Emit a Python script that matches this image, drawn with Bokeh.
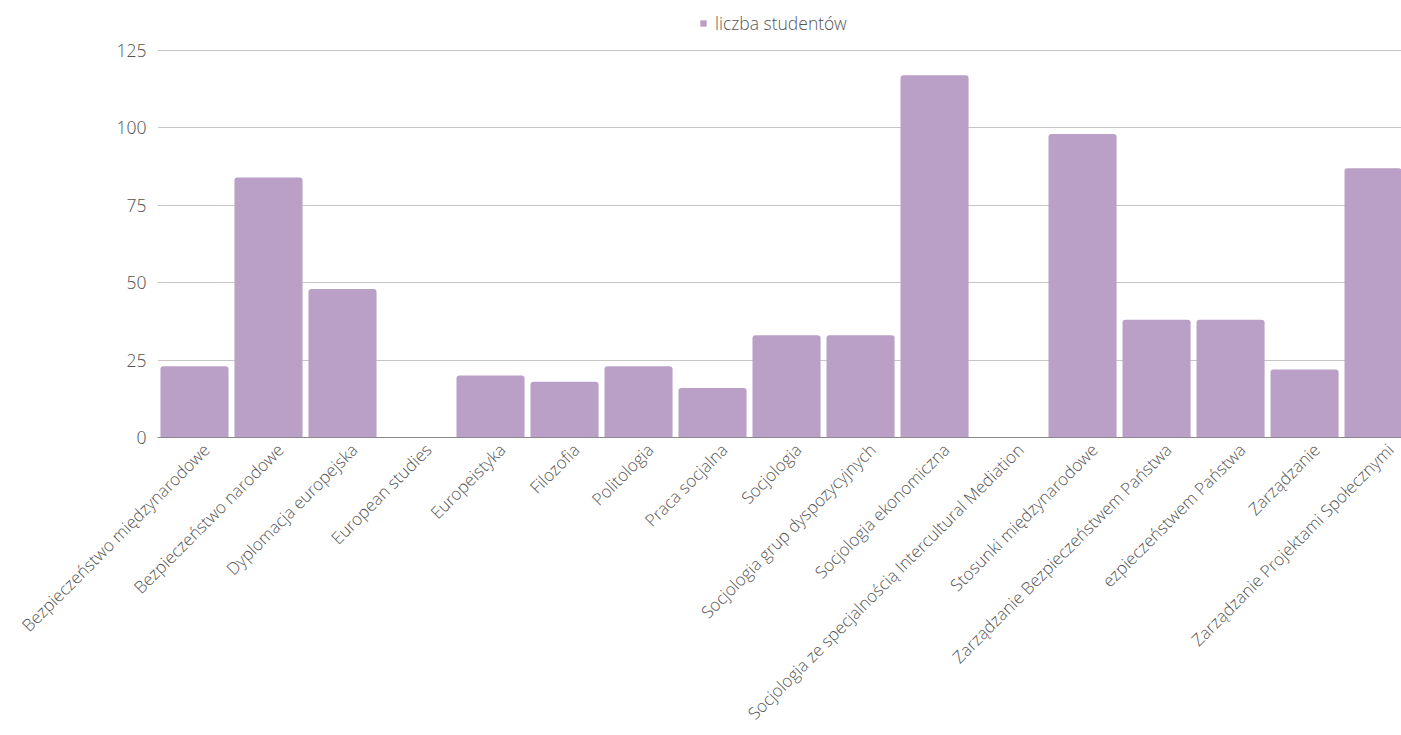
import math
from bokeh.plotting import figure
from bokeh.models import (ColumnDataSource, FixedTicker, Range1d, Legend, LegendItem,
                          CustomJSTickFormatter)
from bokeh.embed import file_html
from bokeh.resources import INLINE

categories = [
    "Bezpieczeństwo międzynarodowe",
    "Bezpieczeństwo narodowe",
    "Dyplomacja europejska",
    "European studies",
    "Europeistyka",
    "Filozofia",
    "Politologia",
    "Praca socjalna",
    "Socjologia",
    "Socjologia grup dyspozycyjnych",
    "Socjologia ekonomiczna",
    "Socjologia ze specjalnością Intercultural Mediation",
    "Stosunki międzynarodowe",
    "Zarządzanie Bezpieczeństwem Państwa",
    "ezpieczeństwem Państwa",
    "Zarządzanie",
    "Zarządzanie Projektami Społecznymi",
]
students = [23, 84, 48, 0, 20, 18, 23, 16, 33, 33, 117, 0, 98, 38, 38, 22, 87]
series_name = "liczba studentów"
y_ticks = [0, 25, 50, 75, 100, 125]

FONT = "'Open Sans Light', 'Open Sans'"
BAR = "#baa0c6"
TEXT = "#555555"
FS = "17.5px"
FS_X = "17px"

idx = list(range(len(categories)))
src = ColumnDataSource(dict(x=idx, top=students, name=categories))

p = figure(
    width=1401, height=735,
    x_range=Range1d(-0.5, 16.31), y_range=Range1d(0, 141.15),
    output_backend="svg", toolbar_location=None,
    min_border_left=157, min_border_right=0, min_border_top=0, min_border_bottom=298,
    outline_line_color=None, background_fill_color="white", border_fill_color="white",
)

r = p.vbar(x="x", top="top", width=0.92, source=src, fill_color=BAR,
           line_color=None, border_radius=(3, 3, 0, 0))

# x axis: labels anchored slightly right of bar centres, as in the reference
label_shift = 0.16
p.xaxis.ticker = FixedTicker(ticks=[i + label_shift for i in idx])
p.xaxis.formatter = CustomJSTickFormatter(args=dict(labels=categories, shift=label_shift),
                                          code="return labels[Math.round(tick - shift)];")
p.xaxis.major_label_orientation = math.pi / 4
p.xaxis.major_tick_line_color = None
p.xaxis.minor_tick_line_color = None
p.xaxis.axis_line_color = "#8a8a8a"
p.xaxis.axis_line_width = 1
p.xaxis.major_label_text_font = FONT
p.xaxis.major_label_text_font_size = FS_X
p.xaxis.major_label_text_color = TEXT
p.xaxis.major_label_standoff = 3
p.xgrid.grid_line_color = None

# y axis
p.yaxis.ticker = FixedTicker(ticks=y_ticks)
p.yaxis.major_tick_line_color = None
p.yaxis.minor_tick_line_color = None
p.yaxis.axis_line_color = None
p.yaxis.major_label_text_font = FONT
p.yaxis.major_label_text_font_size = FS
p.yaxis.major_label_text_color = TEXT
p.yaxis.major_label_standoff = 5
p.ygrid.grid_line_color = "#c6c6c6"
p.ygrid.grid_line_width = 1

legend = Legend(items=[LegendItem(label=series_name, renderers=[r])],
                orientation="horizontal", location=(542, 402),
                glyph_width=8, glyph_height=8, label_standoff=8,
                label_text_font=FONT, label_text_font_size=FS,
                label_text_color=TEXT, border_line_color=None,
                background_fill_alpha=0, padding=0, margin=0, spacing=0)
p.add_layout(legend)

open("out.html", "w").write(file_html(p, INLINE))
